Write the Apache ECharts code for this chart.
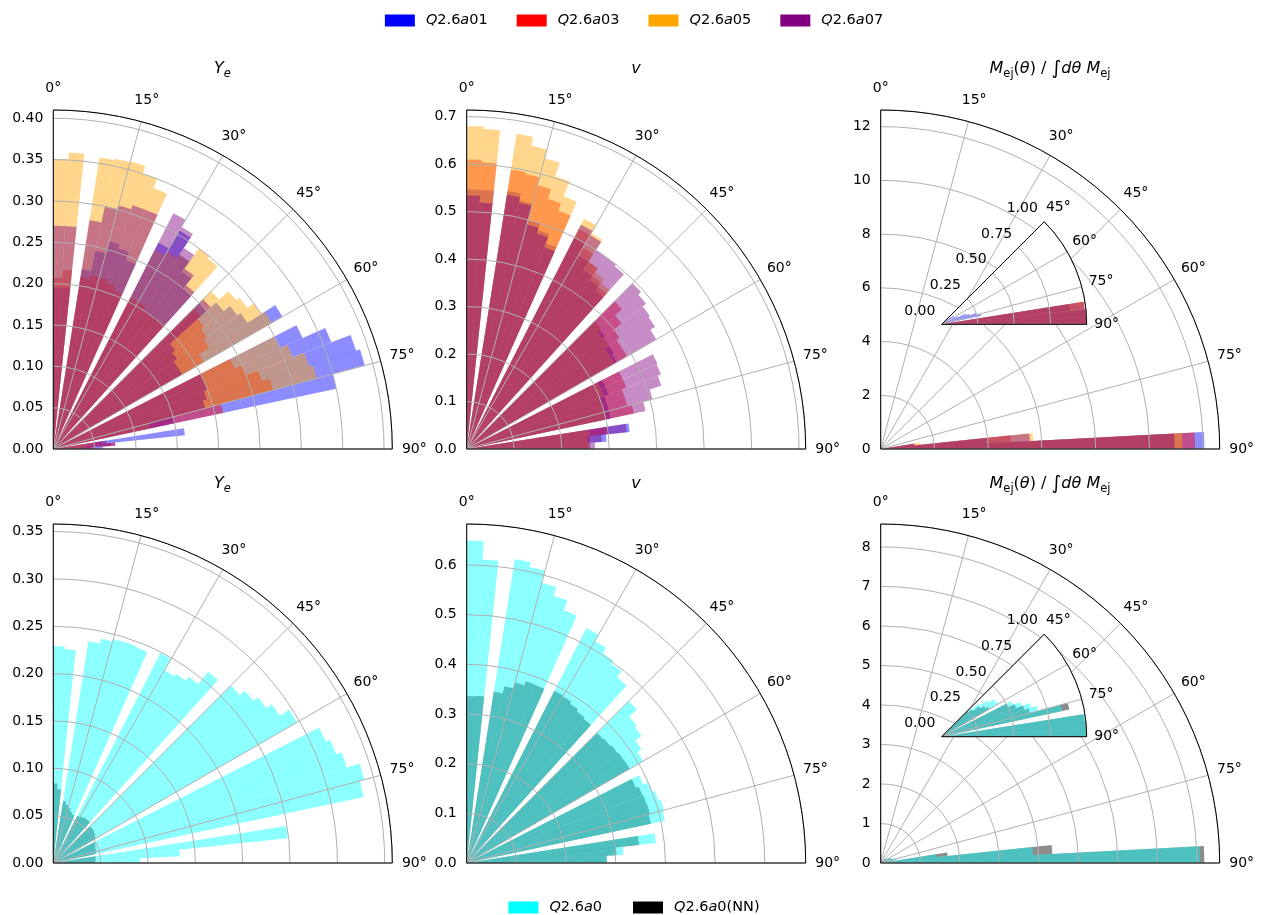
<!DOCTYPE html>
<html><head><meta charset="utf-8">
<script src="https://cdn.jsdelivr.net/npm/echarts@6/dist/echarts.min.js"></script>
<style>html,body{margin:0;padding:0;background:#fff}#c{width:1268px;height:915px}</style>
</head><body><div id="c"></div>
<script>
// ---------- data ----------
const thetaEdges = [0,3,6,9,12,15,18,21,24,27,30,33,36,39,42,45,48,51,54,57,60,63,66,69,72,75,78,81,84,87,90];
const insetEdges = [45,48,51,54,57,60,63,66,69,72,75,78,81,84,87,90];
const angleTicks = [0,15,30,45,60,75,90];
const insetAngleTicks = [45,60,75,90];
const topNames = ['Q2.6a01','Q2.6a03','Q2.6a05','Q2.6a07'];
const botNames = ['Q2.6a0','Q2.6a0(NN)'];

// top row : Y_e
const yeTop_a01 = [0.195,0.196,null, 0.22,0.245,0.26,0.255,0.245, null, 0.28,0.305,0.28,0.265,0.25, null, 0.25,0.265,0.275,0.28,0.32, null, 0.33,0.36,0.385,0.39,0.35, null, 0.16,0.075,0.06];
const yeTop_a03 = [0.207,0.217,null, 0.21,0.215,0.215,0.21,0.205, null, 0.205,0.205,0.20,0.20,0.20, null, 0.24,0.235,0.23,0.225,0.21, null, 0.24,0.25,0.265,0.275,0.21, null, 0.06,0.075,0.05];
const yeTop_a05 = [0.351,0.359,null, 0.357,0.359,0.36,0.35,0.338, null, 0.27,0.275,0.28,0.30,0.297, null, 0.27,0.285,0.29,0.30,0.305, null, 0.30,0.31,0.325,0.33,0.12, null, 0.05,0.04,0.03];
const yeTop_a07 = [0.27,0.27,null, 0.28,0.30,0.305,0.31,0.31, null, 0.32,0.31,0.29,0.27,0.255, null, 0.256,0.19,0.185,0.18,0.18, null, 0.20,0.20,0.195,0.19,0.15, null, 0.065,0.07,0.045];
// top row : v
const vTop_a01 = [0.547,0.547,null, 0.55,0.535,0.50,0.485,0.465, null, 0.50,0.47,0.45,0.44,0.43, null, 0.38,0.375,0.37,0.37,0.365, null, 0.32,0.32,0.31,0.31,0.31, null, 0.345,0.295,0.26];
const vTop_a03 = [0.61,0.605,null, 0.596,0.592,0.575,0.554,0.538, null, 0.52,0.49,0.47,0.45,0.44, null, 0.44,0.42,0.40,0.39,0.39, null, 0.36,0.36,0.35,0.35,0.36, null, 0.30,0.26,0.255];
const vTop_a05 = [0.68,0.675,null, 0.672,0.653,0.634,0.604,0.57, null, 0.544,0.525,0.47,0.46,0.45, null, 0.38,0.37,0.37,0.36,0.36, null, 0.31,0.31,0.30,0.30,0.30, null, 0.26,0.255,0.26];
const vTop_a07 = [0.534,0.52,null, 0.542,0.53,0.49,0.478,0.456, null, 0.53,0.52,0.50,0.50,0.495, null, 0.494,0.486,0.477,0.473,0.461, null, 0.44,0.438,0.431,0.405,0.385, null, 0.339,0.285,0.27];
// top row : M_ej
const mTop_a01 = [0,0,null, 0,0,0,0,0, null, 0,0,0,0,0, null, 0,0,0,0,0, null, 0,0,0,0,0, null, 1.25,4.0,12.05];
const mTop_a03 = [0,0,null, 0,0,0,0,0, null, 0,0,0,0,0, null, 0,0,0,0,0, null, 0,0,0,0,0, null, 1.3,4.86,11.7];
const mTop_a05 = [0,0,null, 0,0,0,0,0, null, 0,0,0,0,0, null, 0,0,0,0,0, null, 0,0,0,0,0, null, 1.5,5.68,11.23];
const mTop_a07 = [0,0,null, 0,0,0,0,0, null, 0,0,0,0,0, null, 0,0,0,0,0, null, 0,0,0,0,0, null, 1.25,5.56,10.94];
// top inset (45..90)
const inTop_a01 = [0.05,0.06,0.08,0.10,0.10, null, 0.12,0.18,0.20,0.25,0.28, null, 0.89,1.0,1.0];
const inTop_a03 = [0,0,0,0,0, null, 0.02,0.03,0.03,0.04,0.05, null, 0.99,1.0,1.0];
const inTop_a05 = [0,0,0,0,0, null, 0.01,0.02,0.02,0.03,0.03, null, 0.99,1.0,1.0];
const inTop_a07 = [0,0,0,0,0, null, 0.03,0.04,0.05,0.06,0.07, null, 0.99,1.0,1.0];

// bottom row : Y_e
const yeBot_a0 = [0.229,0.226,null, 0.237,0.242,0.245,0.245,0.244, null, 0.249,0.235,0.238,0.243,0.26, null, 0.265,0.272,0.278,0.285,0.297, null, 0.315,0.32,0.326,0.34,0.335, null, 0.249,0.134,0.092];
const yeBot_nn = [0.084,0.078,null, 0.066,0.063,0.06,0.057,0.055, null, 0.056,0.057,0.058,0.058,0.058, null, 0.055,0.055,0.054,0.053,0.052, null, 0.049,0.048,0.047,0.047,0.046, null, 0.045,0.045,0.044];
// bottom row : v
const vBot_a0 = [0.649,0.612,null, 0.619,0.609,0.584,0.566,0.545, null, 0.531,0.516,0.503,0.496,0.481, null, 0.461,0.44,0.435,0.42,0.41, null, 0.389,0.399,0.406,0.411,0.408, null, 0.383,0.316,0.282];
const vBot_nn = [0.336,0.337,null, 0.349,0.364,0.376,0.385,0.384, null, 0.389,0.387,0.382,0.377,0.374, null, 0.371,0.373,0.376,0.378,0.379, null, 0.373,0.379,0.381,0.382,0.379, null, 0.349,0.302,0.282];
// bottom row : M_ej
const mBot_a0 = [0,0,null, 0,0,0,0,0, null, 0,0,0,0,0, null, 0.15,0.18,0.2,0.22,0.25, null, 0.3,0.33,0.36,0.4,0.42, null, 1.42,3.86,8.08];
const mBot_nn = [0,0,null, 0,0,0,0,0, null, 0,0,0,0,0, null, 0.12,0.14,0.16,0.18,0.2, null, 0.25,0.28,0.3,0.33,0.38, null, 1.7,4.35,8.19];
// bottom inset (45..90)
const inBot_a0 = [0.28,0.34,0.40,0.44,0.45, null, 0.54,0.59,0.65,0.69,0.85, null, 1.0,1.0,1.0];
const inBot_nn = [0.25,0.28,0.33,0.36,0.38, null, 0.50,0.55,0.60,0.63,0.90, null, 0.99,1.0,1.0];

// ---------- styles ----------
const FONT = 'DejaVu Sans';
const C = {
  'Q2.6a01': 'rgba(0,0,255,0.45)', 'Q2.6a03': 'rgba(255,0,0,0.45)',
  'Q2.6a05': 'rgba(255,165,0,0.45)', 'Q2.6a07': 'rgba(128,0,128,0.45)',
  'Q2.6a0': 'rgba(0,255,255,0.45)', 'Q2.6a0(NN)': 'rgba(0,0,0,0.45)'
};
const SOLID = {'Q2.6a01':'#0000ff','Q2.6a03':'#ff0000','Q2.6a05':'#ffa500','Q2.6a07':'#800080','Q2.6a0':'#00ffff','Q2.6a0(NN)':'#000000'};

const titleRich = {
  i: {fontStyle:'italic', fontSize:16, fontFamily:FONT, lineHeight:22},
  n: {fontSize:16, fontFamily:FONT, lineHeight:22},
  int: {fontSize:19, fontFamily:FONT, lineHeight:22},
  s: {fontStyle:'italic', fontSize:11.5, fontFamily:FONT, lineHeight:14, verticalAlign:'bottom'},
  sr: {fontSize:11.5, fontFamily:FONT, lineHeight:14, verticalAlign:'bottom'}
};
const T_YE = '{i|Y}{s|e}';
const T_V = '{i|v}';
const T_M = '{i|M}{sr|ej}{n|(}{i|θ}{n|) / }{int|∫}{i|dθ}{n| }{i|M}{sr|ej}';

const panels = [
  {cx:53.3, cy:449, R:339, rmax:0.41, interval:0.05, dec:2, title:T_YE, tx:222.5, ty:58,
   sets:[[topNames[0],yeTop_a01],[topNames[1],yeTop_a03],[topNames[2],yeTop_a05],[topNames[3],yeTop_a07]]},
  {cx:466.7, cy:449, R:339, rmax:0.714, interval:0.1, dec:1, title:T_V, tx:636, ty:58,
   sets:[[topNames[0],vTop_a01],[topNames[1],vTop_a03],[topNames[2],vTop_a05],[topNames[3],vTop_a07]]},
  {cx:880.7, cy:449, R:339, rmax:12.62, interval:2, dec:0, title:T_M, tx:1050, ty:58,
   sets:[[topNames[0],mTop_a01],[topNames[1],mTop_a03],[topNames[2],mTop_a05],[topNames[3],mTop_a07]],
   inset:{cx:941.7, cy:324.3, R:145, sets:[[topNames[0],inTop_a01],[topNames[1],inTop_a03],[topNames[2],inTop_a05],[topNames[3],inTop_a07]]}},
  {cx:53.3, cy:863, R:339, rmax:0.358, interval:0.05, dec:2, title:T_YE, tx:222.5, ty:473,
   sets:[[botNames[1],yeBot_nn],[botNames[0],yeBot_a0]]},
  {cx:466.7, cy:863, R:339, rmax:0.6825, interval:0.1, dec:1, title:T_V, tx:636, ty:473,
   sets:[[botNames[1],vBot_nn],[botNames[0],vBot_a0]]},
  {cx:880.7, cy:863, R:339, rmax:8.58, interval:1, dec:0, title:T_M, tx:1050, ty:473,
   sets:[[botNames[1],mBot_nn],[botNames[0],mBot_a0]],
   inset:{cx:941.7, cy:736.7, R:145, sets:[[botNames[1],inBot_nn],[botNames[0],inBot_a0]]}}
];

// ---------- helpers ----------
function binData(edges, values) {
  const out = [];
  values.forEach((v, i) => { if (v != null && v > 0) out.push([edges[i], edges[i+1], v]); });
  return out;
}
function sectorRender(color) {
  return function (params, api) {
    const cs = params.coordSys;
    const v = api.value(2);
    const p0 = api.coord([v, api.value(0)]);
    const p1 = api.coord([v, api.value(1)]);
    const r = Math.hypot(p0[0]-cs.cx, p0[1]-cs.cy);
    return {type:'sector', shape:{cx:cs.cx, cy:cs.cy, r0:0, r:r,
      startAngle:Math.atan2(p0[1]-cs.cy, p0[0]-cs.cx), endAngle:Math.atan2(p1[1]-cs.cy, p1[0]-cs.cx), clockwise:true},
      style:{fill:color, stroke:null}};
  };
}
function frameRender(rmax, amin, amax, ticks, off) {
  return function (params, api) {
    const cs = params.coordSys;
    const a = api.coord([rmax, amin]), b = api.coord([rmax, amax]);
    const ch = [
      {type:'line', shape:{x1:cs.cx, y1:cs.cy, x2:a[0], y2:a[1]}, style:{stroke:'#000', lineWidth:1}},
      {type:'line', shape:{x1:cs.cx, y1:cs.cy, x2:b[0], y2:b[1]}, style:{stroke:'#000', lineWidth:1}}
    ];
    ticks.forEach(t => {
      const q = api.coord([rmax, t]);
      const dx = q[0]-cs.cx, dy = q[1]-cs.cy, d = Math.hypot(dx, dy);
      ch.push({type:'text', x:q[0]+dx/d*off, y:q[1]+dy/d*off,
        style:{text:t+'°', fill:'#000', fontSize:14, fontFamily:FONT, align:'center', verticalAlign:'middle'}});
    });
    return {type:'group', children:ch};
  };
}
function bgRender(rmax, amin, amax) {
  return function (params, api) {
    const cs = params.coordSys;
    const a = api.coord([rmax, amin]), b = api.coord([rmax, amax]);
    return {type:'sector', shape:{cx:cs.cx, cy:cs.cy, r0:0, r:Math.hypot(a[0]-cs.cx, a[1]-cs.cy),
      startAngle:Math.atan2(a[1]-cs.cy, a[0]-cs.cx), endAngle:Math.atan2(b[1]-cs.cy, b[0]-cs.cx), clockwise:true},
      style:{fill:'#fff'}};
  };
}
function fmt(interval, dec) {
  return v => (Math.abs(v/interval - Math.round(v/interval)) < 1e-6 ? v.toFixed(dec) : '');
}

// ---------- build option ----------
const polar = [], angleAxis = [], radiusAxis = [], series = [], title = [];
function addPolar(cfg, isInset) {
  const k = polar.length;
  const amin = isInset ? 45 : 0;
  const zAx = isInset ? 6 : 3, zBar = isInset ? 5 : 2, zFr = isInset ? 7 : 3.5;
  polar.push({center:[cfg.cx, cfg.cy], radius:[0, cfg.R]});
  angleAxis.push({polarIndex:k, type:'value', min:amin, max:90, interval:15,
    startAngle: 90 - amin, endAngle: 0, clockwise:true, z:zAx,
    axisLine:{show:true, lineStyle:{color:'#000', width:1}}, axisTick:{show:false}, axisLabel:{show:false},
    splitLine:{show:true, lineStyle:{color:'#b0b0b0', width:1}}});
  const lab = {show:true, margin: isInset ? 9 : 10, fontSize:14, fontFamily:FONT, color:'#000', formatter:fmt(cfg.interval, cfg.dec)};
  if (isInset) { lab.align = 'right'; lab.verticalAlign = 'bottom'; }
  radiusAxis.push({polarIndex:k, type:'value', min:0, max:cfg.rmax, interval:cfg.interval, z:zAx,
    axisLine:{show:false}, axisTick:{show:false}, axisLabel:lab,
    splitLine:{show:true, lineStyle:{color:'#b0b0b0', width:1}}});
  if (isInset) {
    series.push({type:'custom', coordinateSystem:'polar', polarIndex:k, z:4, silent:true,
      data:[[0,0]], renderItem:bgRender(cfg.rmax, amin, 90)});
  }
  const edges = isInset ? insetEdges : thetaEdges;
  cfg.sets.forEach(([name, vals]) => {
    series.push({type:'custom', name:name, coordinateSystem:'polar', polarIndex:k, z:zBar, silent:true,
      color:SOLID[name], encode:{radius:2, angle:0},
      data:binData(edges, vals), renderItem:sectorRender(C[name])});
  });
  series.push({type:'custom', coordinateSystem:'polar', polarIndex:k, z:zFr, silent:true,
    data:[[0,0]], renderItem:frameRender(cfg.rmax, amin, 90, isInset ? insetAngleTicks : angleTicks, isInset ? 20 : 22)});
}
panels.forEach(p => {
  addPolar(p, false);
  title.push({text:p.title, left:p.tx, top:p.ty, textAlign:'center', textVerticalAlign:'top', padding:0,
    textStyle:{fontSize:16, fontWeight:'normal', fontFamily:FONT, color:'#000', rich:titleRich}});
  if (p.inset) addPolar({cx:p.inset.cx, cy:p.inset.cy, R:p.inset.R, rmax:1, interval:0.25, dec:2, sets:p.inset.sets}, true);
});

function legendFmt(name) { return '{i|Q}' + name.slice(1,4) + '{i|a}' + name.slice(5); }
const legendText = {fontSize:14.5, fontFamily:FONT, color:'#000', padding:[0,0,0,6],
  rich:{i:{fontStyle:'italic', fontSize:14.5, fontFamily:FONT}}};
const legend = [
  {data: topNames.map(n => ({name:n, itemStyle:{color:SOLID[n], opacity:1}})), left:'center', top:8,
   icon:'rect', itemWidth:30, itemHeight:12, itemGap:29, formatter:legendFmt, textStyle:legendText, selectedMode:false},
  {data: botNames.map(n => ({name:n, itemStyle:{color:SOLID[n], opacity:1}})), left:'center', top:895,
   icon:'rect', itemWidth:30, itemHeight:12, itemGap:31, formatter:legendFmt, textStyle:legendText, selectedMode:false}
];

const chart = echarts.init(document.getElementById('c'), null, {renderer:'canvas', width:1268, height:915});
chart.setOption({backgroundColor:'#fff', animation:false, title, legend, polar, angleAxis, radiusAxis, series});
</script></body></html>
